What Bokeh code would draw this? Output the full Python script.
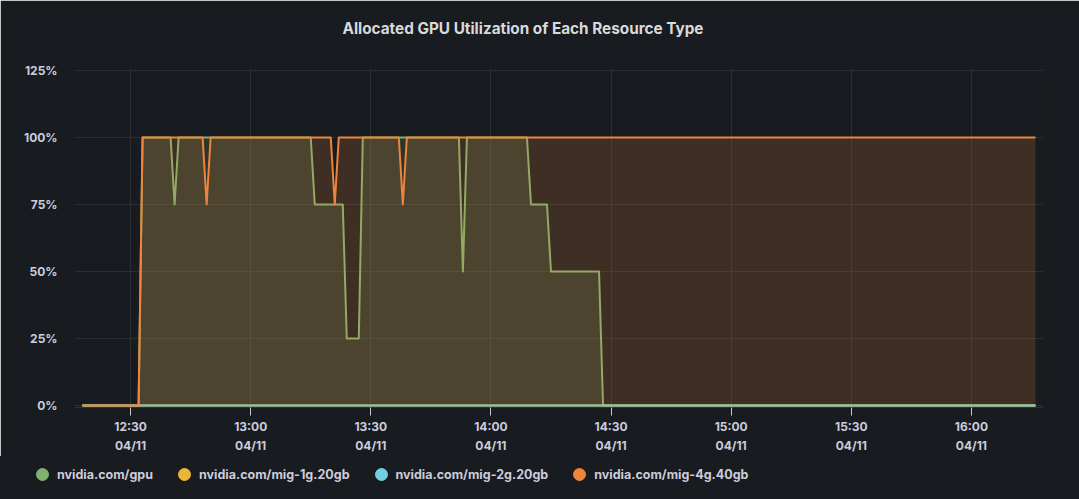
import pandas as pd
from bokeh.plotting import figure
from bokeh.layouts import column
from bokeh.models import Range1d, FixedTicker, Legend, LegendItem, Title
from bokeh.embed import file_html
from bokeh.resources import INLINE

DAY = "2024-04-11 "

series_names = ["nvidia.com/gpu", "nvidia.com/mig-1g.20gb",
                "nvidia.com/mig-2g.20gb", "nvidia.com/mig-4g.40gb"]
series_colors = ["#7EB26D", "#EAB839", "#6ED0E0", "#EF843C"]

gpu_times = ["12:18", "12:32", "12:33", "12:40", "12:41", "12:42", "13:15", "13:16",
             "13:23", "13:24", "13:27", "13:28", "13:52", "13:53", "13:54", "14:09",
             "14:10", "14:14", "14:15", "14:27", "14:28", "16:16"]
gpu_values = [0, 0, 100, 100, 75, 100, 100, 75,
              75, 25, 25, 100, 100, 50, 100, 100,
              75, 75, 50, 50, 0, 0]

mig1g_times = ["12:18", "16:16"]
mig1g_values = [0, 0]

mig2g_times = ["12:18", "16:16"]
mig2g_values = [0, 0]

mig4g_times = ["12:18", "12:32", "12:33", "12:48", "12:49", "12:50", "13:20", "13:21",
               "13:22", "13:37", "13:38", "13:39", "16:16"]
mig4g_values = [0, 0, 100, 100, 75, 100, 100, 75,
                100, 100, 75, 100, 100]

y_ticks = [0, 25, 50, 75, 100, 125]
y_tick_labels = ["0%", "25%", "50%", "75%", "100%", "125%"]
x_tick_times = ["12:30", "13:00", "13:30", "14:00", "14:30", "15:00", "15:30", "16:00"]
x_tick_date = "04/11"
x_view = ["12:16", "16:18"]
title_text = "Allocated GPU Utilization of Each Resource Type"

BG = "#181b1f"
TEXT = "#ccccdc"
GRID = "#2a2d32"
FONT = "Inter"


def ts(t):
    return pd.Timestamp(DAY + t)


def ms(t):
    return ts(t).value / 1e6


p = figure(width=1079, height=456, x_axis_type="datetime",
           output_backend="svg", toolbar_location=None,
           x_range=Range1d(ts(x_view[0]), ts(x_view[1])),
           y_range=Range1d(-0.75, 125.75),
           min_border_left=74, min_border_right=36,
           min_border_top=68, min_border_bottom=48,
           background_fill_color=BG, border_fill_color=BG)
p.outline_line_color = BG
p.outline_line_width = 2

# real title (outer) and an invisible spacer added nearer the frame
p.title.text = title_text
p.title.align = "left"
p.title.offset = 268
p.title.vertical_align = "middle"
p.title.standoff = 0
p.title.text_color = "#d8d9da"
p.title.text_font = FONT
p.title.text_font_size = "15.3px"
p.title.text_font_style = "bold"
spacer = Title(text=" ", text_font_size="10px", standoff=17, text_color=BG)
p.add_layout(spacer, "above")

all_series = [(gpu_times, gpu_values), (mig1g_times, mig1g_values),
              (mig2g_times, mig2g_values), (mig4g_times, mig4g_values)]

for (times, vals), col in zip(all_series, series_colors):
    xs = [ts(t) for t in times]
    p.varea(x=xs, y1=[0] * len(vals), y2=vals, fill_color=col, fill_alpha=0.18)
    p.line(x=xs, y=vals, line_color=col, line_width=2, line_join="round")

# axes
xt = [ms(t) for t in x_tick_times]
p.xaxis.ticker = FixedTicker(ticks=xt)
p.xaxis.major_label_overrides = {v: f"{t}\n{x_tick_date}" for v, t in zip(xt, x_tick_times)}
p.xaxis.minor_tick_line_color = None
p.xaxis.major_tick_in = 0
p.xaxis.major_tick_out = 8
p.xaxis.major_tick_line_color = "#c8c8c8"
p.xaxis.axis_line_color = "#2e3136"
p.xaxis.major_label_standoff = 3
p.xaxis.major_label_text_color = TEXT
p.xaxis.major_label_text_font = FONT
p.xaxis.major_label_text_font_size = "12px"
p.xaxis.major_label_text_font_style = "bold"
p.xaxis.major_label_text_line_height = 1.3

p.yaxis.ticker = FixedTicker(ticks=y_ticks)
p.yaxis.major_label_overrides = {v: l for v, l in zip(y_ticks, y_tick_labels)}
p.yaxis.minor_tick_line_color = None
p.yaxis.major_tick_line_color = None
p.yaxis.major_tick_in = 0
p.yaxis.major_tick_out = 0
p.yaxis.axis_line_color = None
p.yaxis.major_label_standoff = 17
p.yaxis.major_label_text_color = TEXT
p.yaxis.major_label_text_font = FONT
p.yaxis.major_label_text_font_size = "12px"
p.yaxis.major_label_text_font_style = "bold"

p.xgrid.ticker = FixedTicker(ticks=xt)
p.ygrid.ticker = FixedTicker(ticks=y_ticks)
p.grid.grid_line_color = GRID
p.grid.grid_line_width = 1

# legend strip
lf = figure(width=1079, height=43, output_backend="svg", toolbar_location=None,
            x_range=Range1d(0, 1), y_range=Range1d(0, 1),
            min_border=0, x_axis_location=None, y_axis_location=None,
            background_fill_color=BG, border_fill_color=BG)
lf.outline_line_color = BG
lf.outline_line_width = 2
lf.grid.visible = False

aligned = True
for f in (p, lf):
    if "frame_align" in f.properties():
        f.frame_align = False
        aligned = False

legend_items = []
for name, col in zip(series_names, series_colors):
    r = lf.scatter(x=[-5], y=[-5], marker="circle", size=12,
                   fill_color=col, line_color=col)
    legend_items.append(LegendItem(label=name, renderers=[r]))

legend = Legend(items=legend_items, orientation="horizontal",
                location=(27 - (74 if aligned else 0), 10),
                glyph_width=30, glyph_height=30,
                label_standoff=0, spacing=16, padding=0, margin=0,
                border_line_alpha=0, background_fill_alpha=0,
                label_text_color=TEXT, label_text_font=FONT,
                label_text_font_size="12.5px", label_text_font_style="bold")
lf.add_layout(legend, "center")

layout = column(p, lf, spacing=0)
open("out.html", "w").write(file_html(layout, INLINE))
